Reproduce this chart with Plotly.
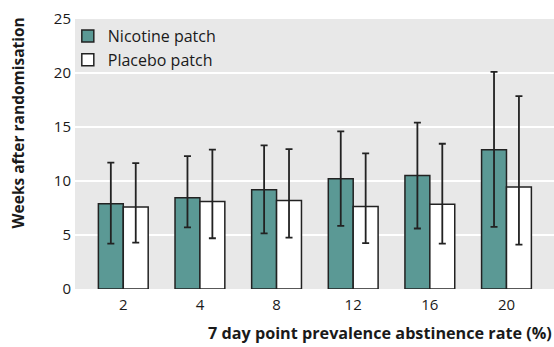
import plotly.graph_objects as go

categories = ["2", "4", "8", "12", "16", "20"]
nicotine_mean = [7.9, 8.45, 9.2, 10.2, 10.5, 12.9]
nicotine_upper = [11.7, 12.3, 13.3, 14.6, 15.4, 20.1]
nicotine_lower = [4.2, 5.7, 5.15, 5.85, 5.6, 5.75]
placebo_mean = [7.6, 8.1, 8.2, 7.65, 7.85, 9.45]
placebo_upper = [11.65, 12.9, 12.95, 12.55, 13.45, 17.85]
placebo_lower = [4.3, 4.7, 4.75, 4.25, 4.2, 4.1]

FONT = "Open Sans"
TEXT = "#1a1a1a"
LINE = "#222222"

def plus(u, m):
    return [a - b for a, b in zip(u, m)]

def minus(m, l):
    return [a - b for a, b in zip(m, l)]

fig = go.Figure()
fig.add_trace(go.Bar(
    name="Nicotine patch", x=categories, y=nicotine_mean,
    marker=dict(color="#5b9995", line=dict(color=LINE, width=1.5)),
    error_y=dict(type="data", symmetric=False,
                 array=plus(nicotine_upper, nicotine_mean),
                 arrayminus=minus(nicotine_mean, nicotine_lower),
                 color=LINE, thickness=1.8, width=3.5),
))
fig.add_trace(go.Bar(
    name="Placebo patch", x=categories, y=placebo_mean,
    marker=dict(color="#ffffff", line=dict(color=LINE, width=1.5)),
    error_y=dict(type="data", symmetric=False,
                 array=plus(placebo_upper, placebo_mean),
                 arrayminus=minus(placebo_mean, placebo_lower),
                 color=LINE, thickness=1.8, width=3.5),
))

fig.update_layout(
    width=554, height=347,
    margin=dict(l=75, r=0, t=19, b=58),
    paper_bgcolor="#ffffff",
    plot_bgcolor="#e8e8e8",
    barmode="group", bargap=0.35, bargroupgap=0,
    font=dict(family=FONT, size=15, color=TEXT),
    showlegend=True,
    legend=dict(x=-0.015, y=1.0, xanchor="left", yanchor="top",
                bgcolor="rgba(0,0,0,0)", font=dict(size=16, color=TEXT),
                itemwidth=30, tracegroupgap=0),
    xaxis=dict(type="category", range=[-0.63, 5.62], showgrid=False,
               showline=False, ticks="", zeroline=False,
               ticklabelstandoff=5,
               tickfont=dict(size=15, color=TEXT)),
    yaxis=dict(range=[0, 25], dtick=5, showgrid=True, gridcolor="#ffffff",
               gridwidth=2, zeroline=False, showline=False, ticks="",
               ticklabelstandoff=3, tickfont=dict(size=15, color=TEXT)),
    annotations=[
        dict(text="<b>Weeks after randomisation</b>", xref="paper", yref="paper",
             x=-0.119, y=0.617, textangle=-90, showarrow=False,
             xanchor="center", yanchor="middle",
             font=dict(size=15.5, color=TEXT, family=FONT)),
        dict(text="<b>7 day point prevalence abstinence rate (%)</b>", xref="paper", yref="paper",
             x=1.0, y=-0.115, xanchor="right", yanchor="top", showarrow=False,
             font=dict(size=16.2, color=TEXT, family=FONT)),
    ],
)

fig.write_html("out.html", config={"displayModeBar": False},
               post_script="document.body.style.margin='0px';")
